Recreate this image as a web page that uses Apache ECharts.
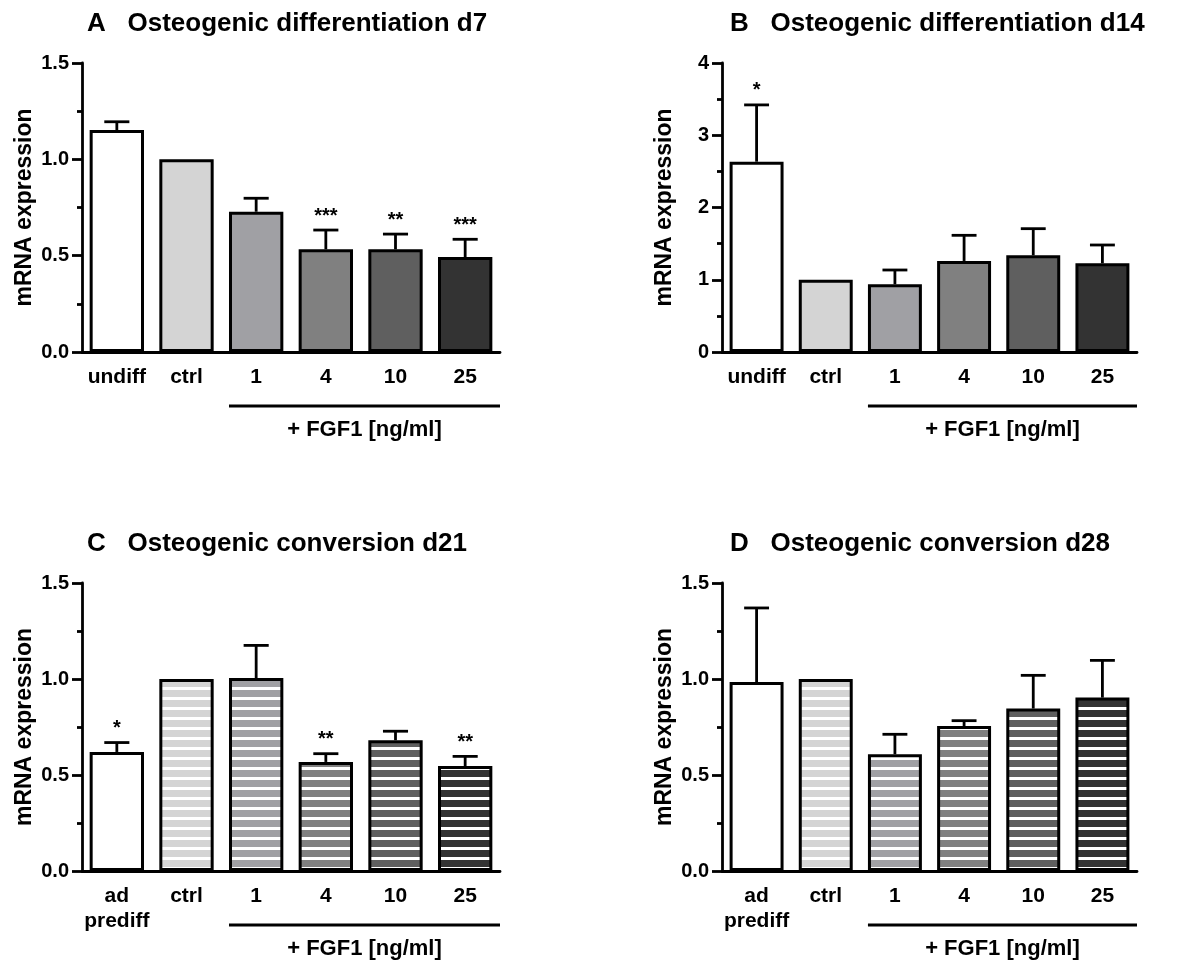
<!DOCTYPE html>
<html><head><meta charset="utf-8">
<script src="https://cdn.jsdelivr.net/npm/echarts@6/dist/echarts.min.js"></script>
<style>html,body{margin:0;padding:0;background:#fff}#c{width:1186px;height:963px}</style>
</head><body><div id="c"></div>
<script>
// ---- data ----
const catsAB = ['undiff', 'ctrl', '1', '4', '10', '25'];
const catsCD = ['ad\nprediff', 'ctrl', '1', '4', '10', '25'];

const meanA = [1.152, 1.0, 0.728, 0.533, 0.533, 0.493];
const semA  = [0.043, 0.0, 0.070, 0.100, 0.079, 0.092];
const sigA  = ['', '', '', '***', '**', '***'];

const meanB = [2.634, 1.0, 0.937, 1.260, 1.338, 1.228];
const semB  = [0.786, 0.0, 0.198, 0.355, 0.369, 0.253];
const sigB  = ['*', '', '', '', '', ''];

const meanC = [0.620, 1.0, 1.005, 0.568, 0.681, 0.547];
const semC  = [0.049, 0.0, 0.170, 0.043, 0.047, 0.050];
const sigC  = ['*', '', '', '**', '', '**'];

const meanD = [0.984, 1.0, 0.608, 0.755, 0.846, 0.903];
const semD  = [0.386, 0.0, 0.104, 0.028, 0.173, 0.194];
const sigD  = ['', '', '', '', '', ''];

const titles = ['A   Osteogenic differentiation d7', 'B   Osteogenic differentiation d14',
                'C   Osteogenic conversion d21', 'D   Osteogenic conversion d28'];
const yName = 'mRNA expression';
const fgfLabel = '+ FGF1 [ng/ml]';
const yMax = [1.5, 4, 1.5, 1.5];
const yStep = [0.5, 1, 0.5, 0.5];
const yDecimals = [1, 0, 1, 1];

const barColors = ['#ffffff', '#d4d4d4', '#a0a0a4', '#808080', '#5f5f5f', '#333333'];

// ---- styling helpers ----
const FONT = '"Liberation Sans", Arial, sans-serif';
function stripe(color) {
  const cv = document.createElement('canvas');
  cv.width = 8; cv.height = 10;
  const ctx = cv.getContext('2d');
  ctx.fillStyle = color; ctx.fillRect(0, 0, 8, 10);
  ctx.fillStyle = '#ffffff'; ctx.fillRect(0, 7, 8, 3);
  return { image: cv, repeat: 'repeat' };
}

const panels = [
  { cats: catsAB, mean: meanA, sem: semA, sig: sigA, striped: false },
  { cats: catsAB, mean: meanB, sem: semB, sig: sigB, striped: false },
  { cats: catsCD, mean: meanC, sem: semC, sig: sigC, striped: true },
  { cats: catsCD, mean: meanD, sem: semD, sig: sigD, striped: true }
];

const gridPos = [
  { left: 82, top: 63, width: 418, height: 289 },
  { left: 722, top: 63, width: 415, height: 289 },
  { left: 82, top: 583, width: 418, height: 288 },
  { left: 722, top: 583, width: 415, height: 288 }
];
const titlePos = [
  { left: 87, top: 11 }, { left: 730, top: 11 },
  { left: 87, top: 531 }, { left: 730, top: 531 }
];

function errRender(sigs) {
  return function (params, api) {
    const i = api.value(0), m = api.value(1), s = api.value(2);
    const band = api.size([1, 0])[0];
    const p0 = api.coord([i, m]);
    const p1 = api.coord([i, m + s]);
    const half = band * 0.18;
    const ch = [];
    if (s > 0) {
      ch.push({ type: 'line', shape: { x1: p0[0], y1: p0[1], x2: p1[0], y2: p1[1] },
        style: { stroke: '#000', lineWidth: 2.8 } });
      ch.push({ type: 'line', shape: { x1: p1[0] - half, y1: p1[1], x2: p1[0] + half, y2: p1[1] },
        style: { stroke: '#000', lineWidth: 2.8 } });
    }
    const sg = sigs[params.dataIndex];
    if (sg) {
      ch.push({ type: 'text', x: p1[0], y: p1[1] - 14,
        style: { text: sg, fill: '#000', font: 'bold 20px ' + FONT,
          align: 'center', verticalAlign: 'middle', textAlign: 'center', textVerticalAlign: 'middle' } });
    }
    return { type: 'group', children: ch };
  };
}

function bracketRender(params, api) {
  const band = api.size([1, 0])[0];
  const a = api.coord([2, 0]);
  const b = api.coord([5, 0]);
  const x1 = a[0] - band * 0.39;
  const x2 = b[0] + band * 0.5;
  const y = a[1] + 54;
  return { type: 'group', children: [
    { type: 'line', shape: { x1: x1, y1: y, x2: x2, y2: y }, style: { stroke: '#000', lineWidth: 2.8 } },
    { type: 'text', x: (x1 + x2) / 2, y: y + 24,
      style: { text: fgfLabel, fill: '#000', font: 'bold 22px ' + FONT,
        align: 'center', verticalAlign: 'middle', textAlign: 'center', textVerticalAlign: 'middle' } }
  ] };
}

const option = {
  animation: false,
  backgroundColor: '#fff',
  title: titles.map((t, k) => ({
    text: t, left: titlePos[k].left, top: titlePos[k].top, padding: 0,
    textStyle: { fontFamily: FONT, fontWeight: 'bold', fontSize: 26, color: '#000' }
  })),
  grid: gridPos.map(g => Object.assign({ containLabel: false }, g)),
  xAxis: panels.map((p, k) => ({
    type: 'category', gridIndex: k, data: p.cats,
    axisLine: { lineStyle: { color: '#000', width: 2.8 } },
    axisTick: { alignWithLabel: true, length: 8, lineStyle: { color: '#000', width: 2.8 } },
    axisLabel: { color: '#000', fontFamily: FONT, fontWeight: 'bold', fontSize: 21, margin: 13, lineHeight: 25, interval: 0 }
  })),
  yAxis: panels.map((p, k) => ({
    type: 'value', gridIndex: k, min: 0, max: yMax[k], interval: yStep[k],
    name: yName, nameLocation: 'middle', nameRotate: 90, nameGap: 46,
    nameTextStyle: { color: '#000', fontFamily: FONT, fontWeight: 'bold', fontSize: 23 },
    axisLine: { show: true, lineStyle: { color: '#000', width: 2.8 } },
    axisTick: { show: true, length: 10, lineStyle: { color: '#000', width: 2.8 } },
    minorTick: { show: true, splitNumber: 2, length: 5, lineStyle: { color: '#000', width: 2.8 } },
    splitLine: { show: false },
    axisLabel: { color: '#000', fontFamily: FONT, fontWeight: 'bold', fontSize: 20, margin: 13,
      formatter: v => v.toFixed(yDecimals[k]) }
  })),
  series: []
};

panels.forEach((p, k) => {
  option.series.push({
    type: 'bar', xAxisIndex: k, yAxisIndex: k, barWidth: '78%',
    data: p.mean.map((v, i) => ({
      value: v,
      itemStyle: {
        color: (p.striped && i > 0) ? stripe(barColors[i]) : barColors[i],
        borderColor: '#000', borderWidth: 3
      }
    }))
  });
  option.series.push({
    type: 'custom', xAxisIndex: k, yAxisIndex: k, z: 5, clip: false,
    renderItem: errRender(p.sig),
    data: p.mean.map((v, i) => [i, v, p.sem[i]])
  });
  option.series.push({
    type: 'custom', xAxisIndex: k, yAxisIndex: k, z: 5, clip: false,
    renderItem: bracketRender,
    data: [[2, 0]]
  });
});

const chart = echarts.init(document.getElementById('c'), null, { renderer: 'canvas' });
chart.setOption(option);
</script>
</body></html>
